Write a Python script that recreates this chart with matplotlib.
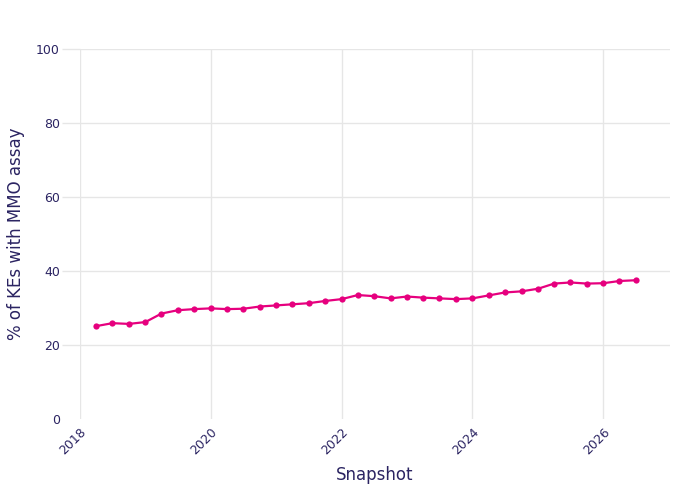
import pandas as pd
import matplotlib
matplotlib.use("Agg")
import matplotlib.pyplot as plt
import matplotlib.dates as mdates

TEXT = "#2b2462"
GRID = "#e6e6e6"
LINE = "#e6007e"

# quarterly snapshots, 2018-Q2 .. 2026-Q3
snapshots = pd.date_range("2018-04-01", periods=34, freq="QS")
pct_mmo = [25.1, 25.9, 25.7, 26.2, 28.5, 29.4, 29.7, 29.9, 29.7, 29.8,
           30.4, 30.7, 31.0, 31.3, 31.9, 32.4, 33.5, 33.2, 32.6, 33.1,
           32.8, 32.6, 32.4, 32.6, 33.4, 34.2, 34.5, 35.2, 36.6, 36.9,
           36.6, 36.7, 37.3, 37.5]
yticks = [0, 20, 40, 60, 80, 100]
xtick_years = [2018, 2020, 2022, 2024, 2026]

fig = plt.figure(figsize=(7, 5), dpi=100)
ax = fig.add_axes([80 / 700, 81 / 500, 590 / 700, 370 / 500])

ax.plot(snapshots, pct_mmo, color=LINE, lw=1.6, marker="o", ms=4.5,
        markeredgewidth=0, zorder=3)

ax.set_ylim(0, 100)
ax.set_xlim(pd.Timestamp("2018-01-01"), pd.Timestamp("2027-01-08"))
ax.set_yticks(yticks)
ax.set_xticks([pd.Timestamp(f"{y}-01-01") for y in xtick_years])
ax.xaxis.set_major_formatter(mdates.DateFormatter("%Y"))

for s in ax.spines.values():
    s.set_visible(False)
ax.grid(True, color=GRID, lw=1)
ax.set_axisbelow(True)
# hide the zero gridline (plotly style)
ax.get_ygridlines()[0].set_visible(False)

ax.tick_params(axis="y", length=13, color=GRID, width=1, pad=1.5,
               labelsize=9, labelcolor=TEXT)
ax.yaxis.get_major_ticks()[0].tick1line.set_visible(False)
ax.tick_params(axis="x", length=0, pad=5, labelsize=9, labelcolor=TEXT)
for lab in ax.get_xticklabels():
    lab.set_rotation(45)
    lab.set_ha("right")
    lab.set_rotation_mode("anchor")

ax.set_xlabel("Snapshot", fontsize=12, color=TEXT, labelpad=6)
ax.set_ylabel("% of KEs with MMO assay", fontsize=12, color=TEXT, labelpad=8)

fig.savefig("out.png", dpi=100)
